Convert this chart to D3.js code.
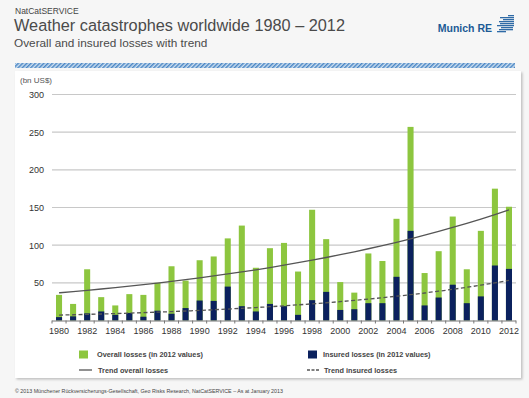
<!DOCTYPE html>
<html><head><meta charset="utf-8">
<script src="https://cdn.jsdelivr.net/npm/d3@7"></script>
<style>
body{margin:0;background:#f6f6f6;font-family:Arial,"Liberation Sans",sans-serif;}
svg{display:block;}
</style></head><body>
<svg id="c" width="529" height="398"></svg>
<script>
const years = d3.range(1980, 2013);
const overallLosses = [34,22,68,31,20,35,34,50,72,53,80,85,109,126,70,96,103,65,147,108,51,37,89,79,135,257,63,92,138,68,119,175,151];
const insuredLosses = [4.5,5.5,9.5,12,7.5,10,5,13,9,16.5,26.5,26,45,19,12,22,19,7.5,27,38,14,15,23,23,58,119,20,30.5,47.5,23,32,73,68.5];
const yTicks = [0,50,100,150,200,250,300];
const xTickLabels = d3.range(1980, 2013, 2);

const svg = d3.select("#c");
const defs = svg.append("defs");
const pat = defs.append("pattern").attr("id","hatch").attr("width",3).attr("height",3)
  .attr("patternUnits","userSpaceOnUse").attr("patternTransform","rotate(45)");
pat.append("rect").attr("width",3).attr("height",3).attr("fill","#cfe0f0");
pat.append("rect").attr("width",1.5).attr("height",3).attr("fill","#4a86c5");
const flt = defs.append("filter").attr("id","sh").attr("x","-5%").attr("y","-5%").attr("width","110%").attr("height","110%");
flt.append("feDropShadow").attr("dx",1.5).attr("dy",1.5).attr("stdDeviation",1).attr("flood-color","#999").attr("flood-opacity",0.6);

// header
svg.append("text").attr("x",15).attr("y",14).attr("font-size",8.5).attr("fill","#444").text("NatCatSERVICE");
svg.append("text").attr("x",14).attr("y",31).attr("font-size",16.3).attr("fill","#4a4a4a").text("Weather catastrophes worldwide 1980 – 2012");
svg.append("text").attr("x",14).attr("y",47).attr("font-size",11.8).attr("fill","#4a4a4a").text("Overall and insured losses with trend");
svg.append("text").attr("x",492).attr("y",32).attr("text-anchor","end").attr("font-size",10.5).attr("font-weight","bold").attr("fill","#1c5a95").text("Munich RE");
// logo stripes
const logo = svg.append("g").attr("fill","#2e6aa6");
[[508,15,6],[500,17,14],[503,19,11],[499,21,15],[500,23,14],[497,25,17],[501,27,12],[499,29,14],[497,31,9]].forEach(d=>{
  logo.append("rect").attr("x",d[0]).attr("y",d[1]).attr("width",d[2]).attr("height",1.3);
});

// hatched band
svg.append("rect").attr("x",15).attr("y",63).attr("width",500).attr("height",5).attr("fill","url(#hatch)");
// panel
svg.append("rect").attr("x",15).attr("y",71).attr("width",506).attr("height",307).attr("fill","#fff").attr("filter","url(#sh)");

const x = d3.scaleBand().domain(years).range([52,516]).paddingInner(0.57).paddingOuter(0.285);
const y = d3.scaleLinear().domain([0,300]).range([320.5,94.5]);

// grid
svg.append("g").selectAll("line").data(yTicks.filter(d=>d>0)).join("line")
  .attr("x1",52).attr("x2",516).attr("y1",d=>y(d)).attr("y2",d=>y(d))
  .attr("stroke","#c8c8c8").attr("stroke-width",1.2);
// y labels
const yAxis = svg.append("g").attr("transform","translate(46,0)")
  .call(d3.axisLeft(y).tickValues(yTicks.filter(d=>d>0)).tickSize(0).tickPadding(2));
yAxis.select(".domain").remove();
yAxis.selectAll("text").attr("font-size",9).attr("fill","#333").attr("font-family","Arial,'Liberation Sans',sans-serif");
svg.append("text").attr("x",20).attr("y",83).attr("font-size",8).attr("fill","#555").text("(bn US$)");

// bars
svg.append("g").selectAll("rect").data(years).join("rect")
  .attr("x",d=>x(d)).attr("width",x.bandwidth())
  .attr("y",(d,i)=>y(overallLosses[i])).attr("height",(d,i)=>y(0)-y(overallLosses[i]))
  .attr("fill","#8dc63f");
svg.append("g").selectAll("rect").data(years).join("rect")
  .attr("x",d=>x(d)).attr("width",x.bandwidth())
  .attr("y",(d,i)=>y(insuredLosses[i])).attr("height",(d,i)=>y(0)-y(insuredLosses[i]))
  .attr("fill","#0b215e");

// exponential trend (least squares on log values)
function expFit(vals){
  const xs = years.map(v=>v-1980), ls = vals.map(Math.log);
  const mx = d3.mean(xs), ml = d3.mean(ls);
  const b = d3.sum(xs,(v,i)=>(v-mx)*(ls[i]-ml))/d3.sum(xs,v=>(v-mx)*(v-mx));
  const a = ml - b*mx;
  return years.map(v=>Math.exp(a+b*(v-1980)));
}
const cx = d=>x(d)+x.bandwidth()/2;
const line = d3.line().x((d,i)=>cx(years[i])).y(d=>y(d)).curve(d3.curveMonotoneX);
svg.append("path").attr("d",line(expFit(overallLosses))).attr("fill","none").attr("stroke","#555").attr("stroke-width",1.3);
svg.append("path").attr("d",line(expFit(insuredLosses))).attr("fill","none").attr("stroke","#555").attr("stroke-width",1.3).attr("stroke-dasharray","4,2.5");

// x axis
svg.append("line").attr("x1",52).attr("x2",516).attr("y1",y(0)+0.5).attr("y2",y(0)+0.5).attr("stroke","#777").attr("stroke-width",1);
svg.append("g").selectAll("line").data(d3.range(years.length+1)).join("line")
  .attr("x1",i=>52+i*x.step()).attr("x2",i=>52+i*x.step()).attr("y1",y(0)).attr("y2",y(0)+3).attr("stroke","#777");
svg.append("g").selectAll("text").data(xTickLabels).join("text")
  .attr("x",d=>cx(d)).attr("y",334).attr("text-anchor","middle").attr("font-size",9).attr("fill","#333").text(d=>d);

// legend
const lg = svg.append("g").attr("font-size",7.3).attr("fill","#444").attr("font-weight","bold");
lg.append("rect").attr("x",79).attr("y",350.5).attr("width",9).attr("height",8).attr("fill","#8dc63f");
lg.append("text").attr("x",97).attr("y",357).text("Overall losses (in 2012 values)");
lg.append("rect").attr("x",308).attr("y",350.5).attr("width",9).attr("height",8).attr("fill","#0b215e");
lg.append("text").attr("x",323).attr("y",357).text("Insured losses (in 2012 values)");
lg.append("line").attr("x1",79).attr("x2",92).attr("y1",370).attr("y2",370).attr("stroke","#555").attr("stroke-width",1.3);
lg.append("text").attr("x",98).attr("y",373).text("Trend overall losses");
lg.append("line").attr("x1",307).attr("x2",320).attr("y1",370).attr("y2",370).attr("stroke","#555").attr("stroke-width",1.3).attr("stroke-dasharray","3,1.5");
lg.append("text").attr("x",324).attr("y",373).text("Trend insured losses");

// footer
svg.append("text").attr("x",15).attr("y",393).attr("font-size",5.3).attr("fill","#444")
  .text("© 2013 Münchener Rückversicherungs-Gesellschaft, Geo Risks Research, NatCatSERVICE – As at January 2013");
</script>
</body></html>
